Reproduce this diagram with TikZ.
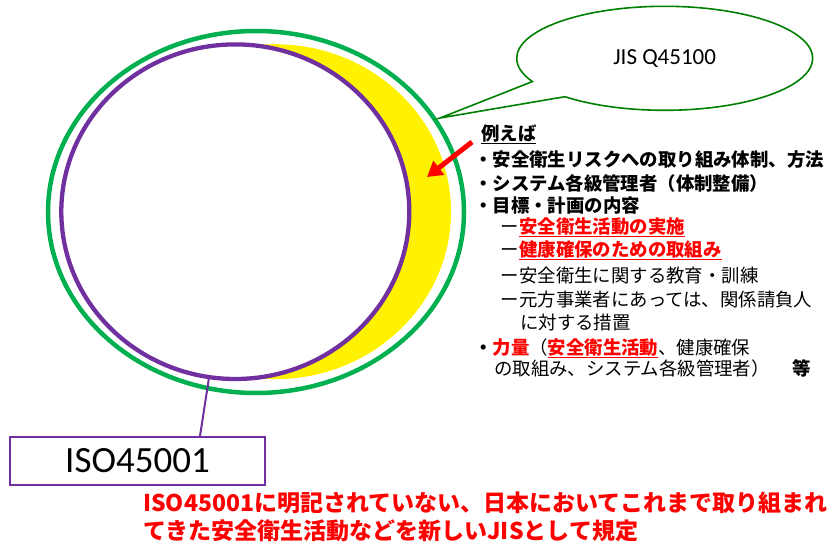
\documentclass[tikz,border=0pt]{standalone}
\usepackage{fontspec}
\setmainfont{Carlito}
\newfontfamily\jp{Noto Sans CJK JP}
\usetikzlibrary{shapes.geometric,shapes.callouts,arrows.meta}
\definecolor{ringgreen}{RGB}{0,176,80}
\definecolor{callgreen}{RGB}{0,128,0}
\definecolor{isopurple}{RGB}{112,48,160}
\definecolor{notered}{RGB}{255,0,0}
\begin{document}
\begin{tikzpicture}[x=1pt,y=-1pt,
  jtxt/.style={anchor=base west, inner sep=0pt, font=\jp\fontsize{18.4}{18.4}\selectfont},
  bottomtxt/.style={anchor=base west, inner sep=0pt, text=notered, font=\jp\bfseries\fontsize{23}{23}\selectfont}]
\useasboundingbox (0,0) rectangle (829,546);
% yellow crescent
\node[ellipse, fill=yellow, minimum width=352pt, minimum height=335pt, inner sep=0pt] (jisarea) at (275,211.7) {};
% ISO (purple) ellipse
\node[ellipse, draw=isopurple, line width=4.3pt, fill=white, minimum width=348pt, minimum height=334.6pt, inner sep=0pt] (iso) at (235.3,211.7) {};
% outer green ring
\node[ellipse, draw=ringgreen, line width=4.5pt, minimum width=416pt, minimum height=362pt, inner sep=0pt] (ring) at (256,212) {};
% ISO box
\node[draw=isopurple, line width=2pt, minimum width=255pt, minimum height=48pt, inner sep=0pt] (isobox) at (137.5,461) {\fontsize{37}{37}\selectfont ISO45001};
\draw[isopurple, line width=2pt] (iso.-99.5) -- ([xshift=62.5pt]isobox.north);
% callout
\coordinate (tip) at (440,118);
\node[ellipse callout, draw=callgreen, line width=1.6pt, fill=white, minimum width=296pt, minimum height=104pt, inner sep=0pt,
  callout absolute pointer={(tip)}, callout pointer arc=21] (jis) at (664.7,58.3) {\fontsize{23}{23}\selectfont JIS Q45100};
% red arrow
\coordinate (atail) at (472,142);
\coordinate (ahead) at (427,177);
\draw[notered, line width=5pt, -{Triangle[length=15pt,width=17pt]}] (atail) -- (ahead);
% right text block
\node[jtxt] (t0) at (481,140) {\bfseries\underline{例えば}};
\node[jtxt] (t1) at (474,166) {\bfseries ・安全衛生リスクへの取り組み体制、方法};
\node[jtxt] (t2) at (474,190) {\bfseries ・システム各級管理者（体制整備）};
\node[jtxt] (t3) at (474,212) {\bfseries ・目標・計画の内容};
\node[jtxt] (t4) at (500.6,233) {ー\textcolor{notered}{\bfseries\underline{安全衛生活動の実施}}};
\node[jtxt] (t5) at (500.6,256) {ー\textcolor{notered}{\bfseries\underline{健康確保のための取組み}}};
\node[jtxt] (t6) at (500.6,282) {ー安全衛生に関する教育・訓練};
\node[jtxt] (t7) at (500.6,306) {ー元方事業者にあっては、関係請負人};
\node[jtxt] (t8) at (520,329) {に対する措置};
\node[jtxt] (t9) at (474,354) {\bfseries ・\textcolor{notered}{力量}\mdseries （\textcolor{notered}{\bfseries\underline{安全衛生活動}}、健康確保};
\node[jtxt] (t10) at (494,375) {の取組み、システム各級管理者）};
\node[jtxt] (t11) at (792,375) {\bfseries 等};
% bottom note
\node[bottomtxt] (b1) at (143,511) {ISO45001に明記されていない、日本においてこれまで取り組まれ};
\node[bottomtxt] (b2) at (143,539) {てきた安全衛生活動などを新しいJISとして規定};
\end{tikzpicture}
\end{document}
